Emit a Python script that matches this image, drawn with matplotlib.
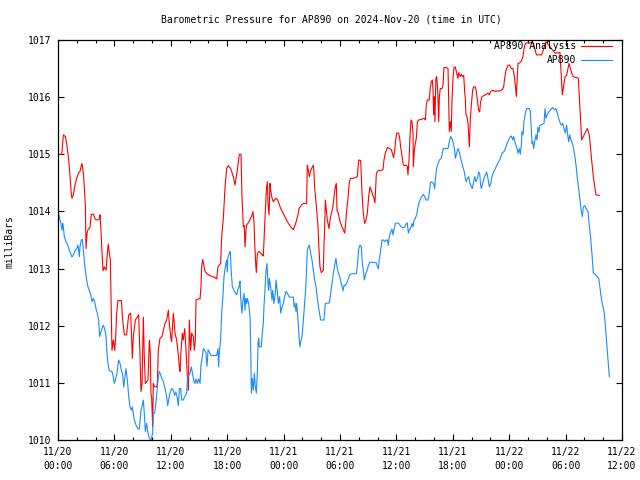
import matplotlib
matplotlib.use('Agg')
import matplotlib.pyplot as plt
from matplotlib.ticker import MultipleLocator

# hours since 2024-11-20 00:00 UTC, pressure in mb
red_hours = [0.0, 0.4, 0.57, 0.78, 0.92, 1.03, 1.14, 1.28, 1.42, 1.49, 1.63, 1.77, 1.99, 2.2, 2.34, 2.45, 2.55, 2.7, 2.8, 2.91,
             2.98, 3.09, 3.19, 3.4, 3.55, 3.76, 3.97, 4.22, 4.4, 4.47, 4.57, 4.65, 4.79, 4.93, 5.11, 5.25, 5.35, 5.46, 5.57, 5.64,
             5.74, 5.89, 6.03, 6.13, 6.24, 6.38, 6.74, 6.88, 7.06, 7.3, 7.52, 7.73, 7.84, 7.91, 8.01, 8.23, 8.58, 8.72, 8.83, 8.94,
             9.08, 9.18, 9.29, 9.43, 9.57, 9.72, 9.82, 9.89, 9.96, 10.07, 10.14, 10.28, 10.5, 10.57, 10.67, 10.85, 11.06, 11.21, 11.38, 11.56,
             11.74, 11.84, 11.99, 12.09, 12.27, 12.45, 12.62, 12.8, 12.91, 12.98, 13.09, 13.23, 13.33, 13.48, 13.62, 13.76, 13.87, 13.97, 14.11, 14.22,
             14.4, 14.5, 14.61, 14.68, 14.96, 15.11, 15.21, 15.28, 15.39, 15.46, 15.64, 15.89, 16.24, 16.6, 16.88, 17.02, 17.3, 17.41, 17.59, 17.77,
             17.94, 18.12, 18.37, 18.65, 18.83, 18.94, 19.08, 19.29, 19.47, 19.57, 19.72, 19.82, 19.9, 20.0, 20.07, 20.32, 20.5, 20.64, 20.74, 20.85,
             20.92, 21.03, 21.1, 21.21, 21.38, 21.56, 21.74, 21.84, 21.91, 22.02, 22.09, 22.16, 22.27, 22.34, 22.45, 22.55, 22.62, 22.77, 22.91, 23.16,
             23.33, 23.51, 23.69, 24.04, 24.4, 24.75, 25.04, 25.28, 25.53, 25.64, 25.89, 26.1, 26.45, 26.52, 26.63, 26.74, 26.88, 27.06, 27.16, 27.23,
             27.3, 27.41, 27.52, 27.66, 27.77, 27.87, 28.01, 28.23, 28.3, 28.37, 28.44, 28.51, 28.65, 28.83, 28.94, 29.08, 29.22, 29.36, 29.5, 29.61,
             29.68, 29.82, 29.96, 30.14, 30.32, 30.5, 30.6, 30.71, 30.85, 31.0, 31.14, 31.38, 31.63, 31.84, 31.99, 32.2, 32.34, 32.48, 32.62, 32.77,
             32.91, 33.05, 33.19, 33.33, 33.48, 33.62, 33.72, 33.87, 34.04, 34.4, 34.57, 34.68, 34.82, 35.04, 35.28, 35.46, 35.57, 35.71, 35.82, 35.92,
             36.03, 36.24, 36.35, 36.45, 36.6, 36.74, 36.88, 37.06, 37.16, 37.23, 37.34, 37.45, 37.55, 37.66, 37.77, 37.8, 37.91, 38.01, 38.12, 38.23,
             38.37, 38.65, 38.94, 39.08, 39.18, 39.29, 39.5, 39.61, 39.72, 39.82, 39.89, 39.96, 40.03, 40.1, 40.2, 40.28, 40.39, 40.5, 40.57, 40.67,
             40.85, 40.96, 41.06, 41.28, 41.49, 41.56, 41.63, 41.74, 41.84, 41.91, 42.02, 42.13, 42.27, 42.41, 42.55, 42.62, 42.8, 42.91, 43.05, 43.16,
             43.26, 43.33, 43.4, 43.51, 43.62, 43.69, 43.76, 43.87, 43.97, 44.11, 44.22, 44.4, 44.5, 44.61, 44.75, 44.86, 44.96, 45.11, 45.46, 45.74,
             45.89, 46.03, 46.24, 46.52, 46.81, 47.06, 47.3, 47.41, 47.52, 47.66, 47.87, 48.05, 48.23, 48.4, 48.55, 48.65, 48.76, 48.87, 48.94, 49.11,
             49.29, 49.43, 49.54, 49.65, 49.8, 50.57, 50.9, 51.45, 51.91, 52.34, 52.87, 53.4, 53.65, 53.94, 54.11, 54.36, 54.65, 54.82, 55.35, 55.53,
             55.71, 56.06, 56.31, 56.52, 56.77, 56.95, 57.23, 57.59]
red_mb = [1015.0, 1015.0, 1015.34, 1015.31, 1015.19, 1015.05, 1014.9, 1014.61, 1014.29, 1014.23, 1014.29, 1014.43, 1014.58, 1014.68, 1014.7, 1014.78, 1014.84, 1014.67, 1014.43, 1014.11,
          1013.35, 1013.62, 1013.68, 1013.72, 1013.95, 1013.95, 1013.86, 1013.85, 1013.87, 1013.94, 1013.68, 1013.38, 1012.96, 1013.03, 1012.97, 1013.27, 1013.43, 1013.27, 1013.15, 1012.51,
          1011.57, 1011.75, 1011.57, 1011.78, 1012.22, 1012.44, 1012.44, 1012.1, 1011.84, 1011.84, 1012.19, 1012.22, 1011.75, 1011.43, 1011.81, 1012.1, 1012.19, 1011.52, 1010.85, 1010.99,
          1012.15, 1011.46, 1010.99, 1011.02, 1011.05, 1011.75, 1011.52, 1010.79, 1010.76, 1010.23, 1010.99, 1010.93, 1010.93, 1010.99, 1011.57, 1011.78, 1011.81, 1011.92, 1012.04, 1012.1,
          1012.27, 1012.04, 1011.81, 1011.72, 1012.22, 1011.87, 1011.75, 1011.49, 1011.28, 1011.2, 1011.57, 1011.87, 1011.75, 1011.95, 1011.57, 1011.11, 1010.87, 1012.1, 1011.57, 1011.87,
          1011.81, 1011.57, 1011.75, 1012.45, 1012.47, 1012.47, 1012.68, 1013.03, 1013.16, 1013.1, 1012.95, 1012.9, 1012.87, 1012.85, 1012.82, 1013.03, 1013.09, 1013.56, 1013.88, 1014.43,
          1014.75, 1014.8, 1014.75, 1014.61, 1014.46, 1014.58, 1014.73, 1015.0, 1015.0, 1014.26, 1013.73, 1013.75, 1013.38, 1013.67, 1013.76, 1013.82, 1013.88, 1013.94, 1014.0, 1013.82,
          1013.47, 1013.09, 1012.93, 1013.27, 1013.3, 1013.27, 1013.24, 1013.22, 1013.47, 1013.88, 1014.14, 1014.37, 1014.52, 1014.14, 1013.94, 1014.49, 1014.37, 1014.23, 1014.17, 1014.23,
          1014.21, 1014.14, 1014.05, 1013.94, 1013.82, 1013.73, 1013.68, 1013.79, 1013.94, 1014.05, 1014.11, 1014.14, 1014.14, 1014.81, 1014.72, 1014.61, 1014.72, 1014.78, 1014.81, 1014.69,
          1014.43, 1014.23, 1014.02, 1013.73, 1013.32, 1013.03, 1012.93, 1012.97, 1013.44, 1013.73, 1014.2, 1014.08, 1013.85, 1013.7, 1013.85, 1013.97, 1014.05, 1014.25, 1014.43, 1014.49,
          1014.02, 1013.97, 1013.85, 1013.76, 1013.69, 1013.62, 1013.79, 1014.02, 1014.23, 1014.52, 1014.58, 1014.58, 1014.59, 1014.61, 1014.9, 1014.89, 1014.32, 1013.97, 1013.79, 1013.85,
          1013.97, 1014.26, 1014.43, 1014.37, 1014.29, 1014.23, 1014.15, 1014.67, 1014.71, 1014.72, 1014.73, 1014.9, 1015.02, 1015.12, 1015.1, 1015.08, 1015.02, 1014.94, 1015.07, 1015.25,
          1015.37, 1015.37, 1015.28, 1015.13, 1014.96, 1014.81, 1014.8, 1014.81, 1014.78, 1014.64, 1014.9, 1015.31, 1015.6, 1015.57, 1015.37, 1014.78, 1015.07, 1015.19, 1015.28, 1015.57,
          1015.6, 1015.61, 1015.63, 1015.6, 1015.86, 1015.95, 1015.95, 1016.18, 1016.27, 1016.3, 1016.15, 1015.69, 1016.01, 1015.57, 1016.33, 1016.36, 1016.15, 1015.57, 1016.01, 1016.15,
          1016.15, 1016.21, 1016.52, 1016.52, 1016.5, 1015.92, 1015.4, 1015.57, 1015.4, 1015.92, 1016.33, 1016.52, 1016.53, 1016.42, 1016.33, 1016.43, 1016.36, 1016.4, 1016.36, 1016.38,
          1016.1, 1015.98, 1015.69, 1015.66, 1015.54, 1015.34, 1015.13, 1015.63, 1015.86, 1016.12, 1016.18, 1016.18, 1016.1, 1015.95, 1015.77, 1015.74, 1015.92, 1016.01, 1016.04, 1016.07,
          1016.04, 1016.1, 1016.12, 1016.1, 1016.11, 1016.11, 1016.14, 1016.18, 1016.33, 1016.47, 1016.56, 1016.56, 1016.5, 1016.5, 1016.36, 1016.21, 1016.01, 1016.39, 1016.59, 1016.6,
          1016.63, 1016.69, 1016.8, 1016.91, 1016.95, 1016.95, 1016.74, 1016.74, 1016.97, 1016.88, 1016.77, 1016.78, 1016.04, 1016.36, 1016.38, 1016.59, 1016.42, 1016.36, 1016.33, 1015.8,
          1015.25, 1015.37, 1015.45, 1015.34, 1014.9, 1014.61, 1014.29, 1014.28]

blue_hours = [0.0, 0.21, 0.32, 0.43, 0.5, 0.57, 0.67, 0.85, 1.03, 1.21, 1.38, 1.49, 1.63, 1.84, 1.99, 2.13, 2.27, 2.34, 2.48, 2.59,
              2.7, 2.8, 2.91, 3.05, 3.19, 3.33, 3.48, 3.62, 3.76, 3.9, 4.04, 4.18, 4.33, 4.43, 4.54, 4.68, 4.82, 4.96, 5.11, 5.21,
              5.32, 5.46, 5.74, 5.89, 5.99, 6.1, 6.24, 6.38, 6.45, 6.6, 6.74, 6.88, 6.99, 7.09, 7.23, 7.38, 7.52, 7.66, 7.8, 7.9,
              8.01, 8.12, 8.3, 8.48, 8.65, 8.83, 8.94, 9.08, 9.18, 9.29, 9.43, 9.54, 9.72, 9.89, 10.07, 10.14, 10.28, 10.43, 10.57, 10.67,
              10.78, 10.92, 11.06, 11.21, 11.38, 11.56, 11.67, 11.77, 11.91, 12.09, 12.27, 12.41, 12.55, 12.7, 12.8, 12.91, 13.05, 13.16, 13.33, 13.51,
              13.69, 13.79, 13.94, 14.04, 14.18, 14.33, 14.47, 14.57, 14.68, 14.82, 14.96, 15.11, 15.21, 15.32, 15.46, 15.6, 15.74, 15.85, 15.96, 16.1,
              16.28, 16.52, 16.88, 17.02, 17.09, 17.16, 17.3, 17.41, 17.52, 17.66, 17.8, 17.94, 18.01, 18.08, 18.23, 18.33, 18.44, 18.55, 18.72, 18.87,
              19.01, 19.11, 19.29, 19.36, 19.43, 19.5, 19.57, 19.68, 19.79, 19.89, 19.96, 20.07, 20.14, 20.28, 20.43, 20.5, 20.57, 20.67, 20.78, 20.89,
              20.99, 21.1, 21.21, 21.28, 21.35, 21.42, 21.63, 21.74, 21.84, 21.91, 22.02, 22.13, 22.23, 22.34, 22.41, 22.48, 22.62, 22.77, 22.84, 22.98,
              23.12, 23.19, 23.33, 23.44, 23.58, 23.69, 23.83, 23.97, 24.11, 24.26, 24.4, 24.61, 25.04, 25.11, 25.21, 25.32, 25.39, 25.53, 25.64, 25.74,
              25.85, 25.96, 26.1, 26.24, 26.38, 26.52, 26.63, 26.74, 26.88, 27.02, 27.16, 27.3, 27.45, 27.59, 27.77, 27.94, 28.3, 28.44, 28.87, 29.01,
              29.15, 29.29, 29.43, 29.57, 29.68, 29.82, 29.96, 30.14, 30.32, 30.43, 30.57, 30.78, 31.03, 31.28, 31.74, 31.84, 31.99, 32.13, 32.27, 32.38,
              32.48, 32.59, 32.7, 32.84, 32.98, 33.16, 33.51, 33.87, 33.97, 34.08, 34.18, 34.33, 34.47, 34.61, 34.75, 34.89, 35.04, 35.14, 35.25, 35.39,
              35.53, 35.64, 35.74, 35.89, 36.03, 36.24, 36.38, 36.52, 36.74, 36.88, 37.06, 37.16, 37.27, 37.38, 37.52, 37.66, 37.77, 37.87, 38.01, 38.16,
              38.3, 38.44, 38.58, 38.72, 38.87, 39.01, 39.15, 39.36, 39.5, 39.61, 39.72, 39.86, 39.96, 40.07, 40.14, 40.28, 40.43, 40.57, 40.78, 40.99,
              41.49, 41.63, 41.77, 41.91, 42.06, 42.2, 42.27, 42.41, 42.55, 42.7, 42.84, 42.98, 43.12, 43.23, 43.33, 43.44, 43.55, 43.69, 43.83, 43.97,
              44.08, 44.22, 44.33, 44.47, 44.61, 44.75, 44.86, 44.96, 45.04, 45.18, 45.32, 45.46, 45.6, 45.74, 45.89, 46.03, 46.17, 46.35, 46.52, 46.7,
              46.88, 47.06, 47.23, 47.41, 47.59, 47.77, 47.94, 48.12, 48.23, 48.37, 48.48, 48.65, 48.83, 48.94, 49.08, 49.18, 49.29, 49.36, 49.47, 49.57,
              49.72, 49.86, 50.14, 50.25, 50.35, 50.43, 50.5, 50.6, 50.71, 50.85, 50.96, 51.06, 51.17, 51.28, 51.49, 51.7, 51.81, 51.91, 52.06, 52.27,
              52.45, 52.62, 52.8, 52.98, 53.12, 53.26, 53.4, 53.55, 53.69, 53.83, 53.97, 54.11, 54.22, 54.33, 54.43, 54.57, 54.72, 54.86, 54.96, 55.11,
              55.25, 55.39, 55.53, 55.67, 55.78, 55.89, 56.03, 56.17, 56.38, 56.52, 56.67, 56.81, 56.95, 57.16, 57.38, 57.52, 57.66, 57.8, 57.94, 58.09,
              58.23, 58.33, 58.44, 58.55, 58.65]
blue_mb = [1014.0, 1013.85, 1013.79, 1013.67, 1013.79, 1013.73, 1013.56, 1013.47, 1013.41, 1013.32, 1013.25, 1013.2, 1013.24, 1013.32, 1013.35, 1013.41, 1013.21, 1013.38, 1013.5, 1013.51,
           1013.32, 1013.12, 1012.97, 1012.8, 1012.68, 1012.62, 1012.54, 1012.42, 1012.48, 1012.42, 1012.3, 1012.22, 1012.1, 1011.81, 1011.87, 1011.95, 1012.01, 1011.95, 1011.81, 1011.52,
           1011.34, 1011.21, 1011.2, 1011.1, 1010.99, 1011.05, 1011.14, 1011.31, 1011.4, 1011.34, 1011.22, 1011.14, 1010.93, 1011.07, 1011.25, 1011.05, 1010.76, 1010.58, 1010.52, 1010.58,
           1010.47, 1010.35, 1010.26, 1010.2, 1010.19, 1010.52, 1010.58, 1010.7, 1010.47, 1010.15, 1010.29, 1010.15, 1010.03, 1010.0, 1010.12, 1010.47, 1010.47, 1010.67, 1010.93, 1011.11,
           1011.2, 1011.14, 1011.07, 1011.02, 1010.9, 1010.76, 1010.6, 1010.7, 1010.82, 1010.9, 1010.87, 1010.78, 1010.84, 1010.73, 1010.6, 1010.9, 1010.9, 1010.7, 1010.7, 1010.77,
           1010.82, 1011.11, 1011.14, 1011.17, 1011.28, 1011.14, 1011.02, 1010.99, 1011.07, 1010.99, 1011.07, 1010.99, 1011.31, 1011.43, 1011.6, 1011.57, 1011.52, 1011.29, 1011.58, 1011.54,
           1011.48, 1011.48, 1011.48, 1011.6, 1011.28, 1011.52, 1011.75, 1012.22, 1012.45, 1012.86, 1013.03, 1013.15, 1012.94, 1013.2, 1013.27, 1013.3, 1012.92, 1012.68, 1012.62, 1012.57,
           1012.54, 1012.62, 1012.7, 1012.78, 1012.51, 1012.34, 1012.22, 1012.45, 1012.57, 1012.27, 1012.48, 1012.39, 1012.48, 1012.39, 1012.16, 1011.63, 1010.82, 1011.08, 1010.87, 1011.17,
           1010.93, 1010.82, 1011.2, 1011.69, 1011.78, 1011.63, 1011.63, 1011.89, 1012.04, 1012.33, 1012.62, 1012.97, 1013.09, 1012.74, 1012.62, 1012.83, 1012.68, 1012.45, 1012.62, 1012.39,
           1012.57, 1012.8, 1012.6, 1012.39, 1012.51, 1012.22, 1012.33, 1012.39, 1012.51, 1012.6, 1012.57, 1012.5, 1012.5, 1012.33, 1012.39, 1012.25, 1012.39, 1012.1, 1011.81, 1011.63,
           1011.75, 1011.81, 1012.1, 1012.39, 1012.74, 1013.32, 1013.38, 1013.41, 1013.27, 1013.15, 1012.97, 1012.8, 1012.68, 1012.48, 1012.27, 1012.1, 1012.1, 1012.39, 1012.4, 1012.57,
           1012.74, 1012.91, 1013.06, 1013.18, 1013.03, 1012.93, 1012.86, 1012.74, 1012.61, 1012.71, 1012.7, 1012.77, 1012.89, 1012.91, 1012.91, 1013.03, 1013.35, 1013.41, 1013.38, 1013.09,
           1012.97, 1012.8, 1012.89, 1012.95, 1013.03, 1013.11, 1013.11, 1013.1, 1013.03, 1013.0, 1013.15, 1013.32, 1013.5, 1013.5, 1013.47, 1013.5, 1013.5, 1013.41, 1013.56, 1013.64,
           1013.69, 1013.59, 1013.68, 1013.79, 1013.8, 1013.79, 1013.76, 1013.73, 1013.71, 1013.73, 1013.79, 1013.8, 1013.62, 1013.68, 1013.71, 1013.79, 1013.73, 1013.84, 1013.88, 1013.94,
           1014.08, 1014.17, 1014.23, 1014.26, 1014.3, 1014.26, 1014.2, 1014.2, 1014.32, 1014.49, 1014.52, 1014.5, 1014.49, 1014.4, 1014.55, 1014.75, 1014.84, 1014.9, 1014.93, 1015.1,
           1015.1, 1015.22, 1015.31, 1015.28, 1015.19, 1015.07, 1014.93, 1015.02, 1015.1, 1015.04, 1014.93, 1014.84, 1014.75, 1014.69, 1014.58, 1014.52, 1014.58, 1014.61, 1014.49, 1014.43,
           1014.4, 1014.52, 1014.61, 1014.52, 1014.58, 1014.69, 1014.66, 1014.46, 1014.4, 1014.49, 1014.58, 1014.64, 1014.69, 1014.58, 1014.43, 1014.49, 1014.61, 1014.69, 1014.75, 1014.81,
           1014.87, 1014.93, 1015.02, 1015.04, 1015.1, 1015.19, 1015.25, 1015.31, 1015.32, 1015.25, 1015.31, 1015.19, 1015.1, 1015.02, 1015.1, 1015.0, 1015.16, 1015.4, 1015.34, 1015.57,
           1015.72, 1015.8, 1015.8, 1015.75, 1015.45, 1015.19, 1015.22, 1015.1, 1015.22, 1015.34, 1015.25, 1015.48, 1015.39, 1015.51, 1015.52, 1015.54, 1015.8, 1015.63, 1015.7, 1015.75,
           1015.79, 1015.82, 1015.78, 1015.8, 1015.72, 1015.63, 1015.56, 1015.51, 1015.54, 1015.45, 1015.37, 1015.51, 1015.34, 1015.22, 1015.34, 1015.25, 1015.19, 1015.1, 1014.99, 1014.81,
           1014.58, 1014.4, 1014.2, 1014.0, 1013.91, 1014.08, 1014.1, 1014.05, 1014.0, 1013.76, 1013.53, 1013.24, 1012.92, 1012.9, 1012.86, 1012.83, 1012.65, 1012.48, 1012.36, 1012.25,
           1012.01, 1011.78, 1011.55, 1011.31, 1011.11]

tick_hours = [0, 6, 12, 18, 24, 30, 36, 42, 48, 54, 60]
tick_labels = ['11/20\n00:00', '11/20\n06:00', '11/20\n12:00', '11/20\n18:00', '11/21\n00:00', '11/21\n06:00',
               '11/21\n12:00', '11/21\n18:00', '11/22\n00:00', '11/22\n06:00', '11/22\n12:00']

font = 'DejaVu Sans Mono'
fs = 7

fig = plt.figure(figsize=(6.4, 4.8), dpi=100)
ax = fig.add_axes([58/640, 40/480, 564/640, 400/480])

ax.plot(red_hours, red_mb, color='#ff0000', lw=0.8, label='AP890 Analysis')
ax.plot(blue_hours, blue_mb, color='#1a8cff', lw=0.8, label='AP890')

ax.set_xlim(0, 60)
ax.set_ylim(1010, 1017)
ax.set_xticks(tick_hours)
ax.set_xticklabels(tick_labels, fontfamily=font, fontsize=fs, linespacing=1.55)
ax.xaxis.set_minor_locator(MultipleLocator(2))
ax.set_yticks(range(1010, 1018))
for t in ax.get_yticklabels():
    t.set_fontfamily(font)
    t.set_fontsize(fs)

ax.tick_params(which='both', direction='in', top=True, right=True, width=0.8)
ax.tick_params(which='major', length=4.5, pad=5)
ax.tick_params(which='minor', length=2.5)
for s in ax.spines.values():
    s.set_linewidth(0.9)

fig.text(331/640, 1 - 19/480, 'Barometric Pressure for AP890 on 2024-Nov-20 (time in UTC)',
         ha='center', va='center', fontfamily=font, fontsize=fs)
fig.text(10/640, 1 - 242/480, 'milliBars', rotation=90, ha='center', va='center',
         fontfamily=font, fontsize=fs)

leg = ax.legend(loc='upper right', bbox_to_anchor=(612/640, 1 - 41/480), bbox_transform=fig.transFigure,
                frameon=False, markerfirst=False, handlelength=3.2, handletextpad=0.5,
                borderpad=0, borderaxespad=0, labelspacing=0.45, prop={'family': font, 'size': fs})
leg.set_zorder(10)

fig.savefig('out.png', dpi=100)
